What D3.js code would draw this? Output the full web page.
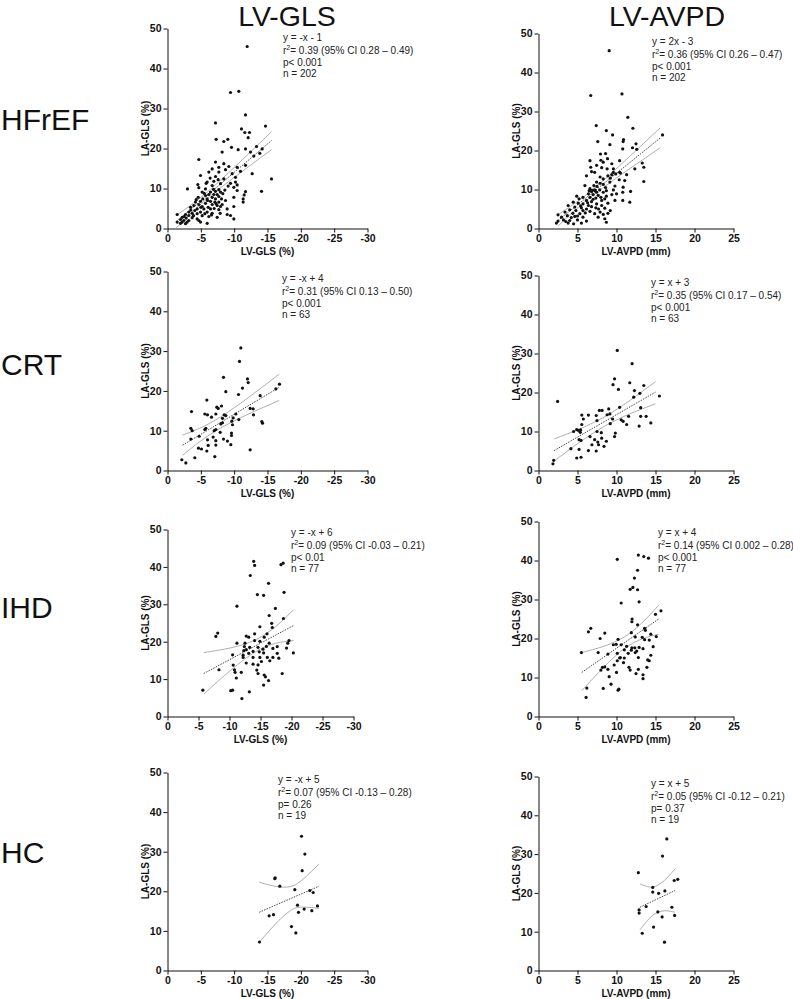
<!DOCTYPE html>
<html>
<head>
<meta charset="utf-8">
<script src="https://cdnjs.cloudflare.com/ajax/libs/d3/7.8.5/d3.min.js"></script>
<style>
  body { margin: 0; background: #fff; }
  svg { display: block; }
  text { font-family: "Liberation Sans", Arial, sans-serif; }
</style>
</head>
<body>
<script>
// ---- data ----
var rowNames = ["HFrEF", "CRT", "IHD", "HC"];
var colNames = ["LV-GLS", "LV-AVPD"];
var xTitles = ["LV-GLS (%)", "LV-AVPD (mm)"];
var yTitle = "LA-GLS (%)";
var glsTicks = [0, -5, -10, -15, -20, -25, -30];
var avpdTicks = [0, 5, 10, 15, 20, 25];
var yTicks = [0, 10, 20, 30, 40, 50];

var equations = ["y = -x - 1", "y = 2x - 3", "y = -x + 4", "y = x + 3",
                 "y = -x + 6", "y = x + 4", "y = -x + 5", "y = x + 5"];
var r2Text = ["= 0.39 (95% CI 0.28 \u2013 0.49)", "= 0.36 (95% CI 0.26 \u2013 0.47)",
              "= 0.31 (95% CI 0.13 \u2013 0.50)", "= 0.35 (95% CI 0.17 \u2013 0.54)",
              "= 0.09 (95% CI -0.03 \u2013 0.21)", "= 0.14 (95% CI 0.002 \u2013 0.28)",
              "= 0.07 (95% CI -0.13 \u2013 0.28)", "= 0.05 (95% CI -0.12 \u2013 0.21)"];
var pText = ["p< 0.001", "p< 0.001", "p< 0.001", "p< 0.001", "p< 0.01", "p< 0.001", "p= 0.26", "p= 0.37"];
var nText = [202, 202, 63, 63, 77, 77, 19, 19];

var hfrefGls = [[-11.95,45.5],[-9.45,34],[-10.7,34.3],[-11.7,28.4],[-7.2,26.4],[-14.7,25.6],[-11.1,24.9],[-11.6,24],[-12.3,24],[-12.1,22.7],[-7.3,22.3],[-8.45,21.75],[-9.05,22.3],[-9.6,20.3],[-11.7,19.9],[-10.6,19.7],[-13.35,20.5],[-14.2,19.9],[-12.45,19.1],[-8.2,19.1],[-4.7,17.25],[-13.85,18.8],[-12.95,18.1],[-7.2,16.6],[-8.45,16.2],[-9.2,15.5],[-7.7,15.3],[-6.7,14.9],[-8.7,14.7],[-10.45,15.3],[-11.7,15.8],[-10.95,14.3],[-6.2,14.1],[-7.7,14.1],[-9.7,13.7],[-12.7,13.7],[-4.95,13.25],[-7.2,13],[-8.45,12.4],[-10.2,12.8],[-15.6,12.4],[-5.95,11.6],[-6.95,11.8],[-7.95,11.2],[-9.45,11.3],[-10.45,10.9],[-4.55,11],[-6.7,10.75],[-9.95,10.3],[-4.7,10.2],[-5.7,9.9],[-7.7,9.7],[-3,9.9],[-10.45,9.5],[-14.1,9.3],[-11.7,9.2],[-5.2,9.1],[-6.45,9.1],[-7.2,9.3],[-7.95,9.1],[-6.2,8.5],[-6.95,8.5],[-5.7,8.25],[-7.45,8.5],[-11.5,8.4],[-4.6,7.8],[-6.7,7.8],[-7.7,8],[-5.3,7.4],[-5.95,7.4],[-7.2,7.4],[-8.1,7.4],[-9.95,7.8],[-11.35,7.4],[-4.95,6.8],[-6.45,6.8],[-7.1,6.6],[-7.7,6.6],[-8.7,7],[-4.2,6.6],[-5.7,6.3],[-11.35,6.6],[-4.7,6],[-6.7,6],[-7.45,5.75],[-3.95,5.75],[-5.2,5.5],[-6.1,5.3],[-7.95,5.5],[-9.95,5.5],[-3.45,5.3],[-4.45,4.9],[-5.45,4.9],[-6.45,4.9],[-7.7,4.7],[-8.95,4.9],[-4.1,4.5],[-4.95,4.1],[-5.95,4.1],[-3.2,4.1],[-3.7,3.8],[-4.45,3.7],[-5.6,3.7],[-6.7,3.8],[-2.7,3.5],[-8.95,3.5],[-9.45,3.25],[-1.45,3.5],[-3.2,3.25],[-5.2,3.2],[-6.2,3],[-7.45,2.8],[-9.95,2.4],[-2.2,2.8],[-2.8,2.6],[-3.7,2.7],[-4.45,2.4],[-1.95,2.25],[-2.45,2],[-3.2,2],[-4.7,2],[-1.45,1.6],[-2.2,1.6],[-2.95,1.6],[-4.95,1.6],[-5.95,1.3],[-2.7,1.2],[-1.95,1.3],
  [-5.5,8.8],[-6,7],[-6.9,9.8],[-7.3,6.2],[-8.3,8.7],[-5,5.3],[-6.6,3.4],[-7.9,3.8],[-4.3,7.2],[-3.5,4.6],[-8.6,9.6],[-9.1,10.6],[-5.8,11.3],[-6.4,12.6],[-7.6,12.2],[-10.2,11.6],[-3.9,3.2],[-2.5,3],[-7,5],[-8.2,6]];

var hfrefAvpd = [[9.06,45.6],[6.7,34.1],[10.7,34.5],[11.45,28.5],[7.4,26.4],[12.1,25.7],[8.7,25.1],[15.9,24],[9.5,24],[10.9,22.8],[7.6,22.3],[10.85,22.3],[12.5,21.7],[9.15,21.5],[7.95,19.1],[8.6,19.2],[10.8,20.4],[12.05,20.7],[12.6,20.3],[6.6,17.4],[8.85,17.9],[7.45,16.2],[8.3,17],[9.4,16.6],[10.4,17.4],[13.3,16.8],[6.7,15.7],[8.1,15.6],[8.8,15.3],[9.6,15.3],[13.5,15.7],[7.2,14.4],[9.6,14.4],[9.9,14],[10.4,14.4],[11.3,13.8],[12.35,15.3],[6.15,13.5],[7.9,13.2],[8.9,13.5],[8.3,12.7],[10.35,12.5],[7.45,11.9],[9.15,11.9],[11.05,12.3],[13.5,12.05],[5.95,11],[7.1,11],[8.3,11.3],[9.8,10.9],[10.85,10.6],[6.6,10.2],[7.2,9.9],[7.85,9.9],[8.7,9.7],[9.6,9.9],[6.8,9.5],[7.45,9.3],[8.3,9.3],[10,8.9],[10.8,9.3],[11.8,9.5],[6.4,8.9],[7,8.7],[7.65,8.5],[8.7,8.3],[9.4,8.7],[4.9,8.3],[5.7,8],[6.6,8],[7.35,7.8],[8.5,7.6],[5.2,7.6],[8.1,7.2],[6.15,7.2],[6.8,6.9],[9.8,7.2],[10.8,7.2],[11.7,6.75],[4.45,6.75],[5.1,6.5],[5.7,6.3],[7.45,6.3],[8.9,6.5],[3.8,5.9],[6.4,5.9],[6.8,5.6],[8.1,5.9],[4.65,5.5],[5.5,5.3],[6.15,5],[7.35,5.3],[8.5,5.2],[4,4.8],[4.8,4.6],[5.7,4.6],[6.6,4.4],[7.9,4.2],[9.2,4.6],[3.4,4.2],[4.4,3.9],[5.3,3.8],[7.2,3.8],[8.3,3.6],[8.9,3.9],[3.7,3.3],[2.95,2.9],[4.65,3.1],[5.7,2.9],[7.65,2.9],[2.5,3.5],[3.2,2.2],[4,2.05],[5,2.2],[2.5,1.9],[6.15,1.9],[8.5,2.5],[8.7,1.6],[2.3,1.4],[3.8,1.4],[4.5,1.2],[5.5,1.4],
  [6.9,9.8],[7.3,9.6],[6.5,9.7],[7,7.5],[8,8],[6.3,6.6],[5.4,5.8],[7.7,5],[6,4],[4.2,2.8],[8.6,10.5],[9.2,12.9],[7.9,11.6],[5,3.2],[3.5,1.8],[6.8,14.6],[8,17.5],[9.4,13.8],[10.5,14.2],[7.5,10.8]];

var crtGls = [[-11,30.8],[-10.8,27.4],[-8.4,23.4],[-12,23],[-12.1,22.1],[-11.25,20.7],[-16.8,21.7],[-16.25,20.5],[-8.75,19.8],[-10.65,19.1],[-13.9,18.8],[-5.9,17.7],[-7.4,15.9],[-7.6,15.6],[-8.1,16.2],[-3.6,14.8],[-5.6,14.2],[-6,14],[-6.6,13.4],[-7.25,14.2],[-8.5,14],[-8.75,13.8],[-10.25,14.2],[-12.85,15.5],[-12.4,15.6],[-12.9,14],[-8.25,13.1],[-8.25,12],[-9.85,13.2],[-8,11.7],[-9.65,12.4],[-9.75,11.5],[-10.7,12.8],[-14.15,12.3],[-14.25,11.9],[-3.5,10.6],[-3.7,10],[-5.6,10.3],[-5.75,10.6],[-7,10],[-7.25,10.3],[-7.9,9.6],[-9.6,9.4],[-9.6,8.8],[-4.75,8.6],[-6.85,8.4],[-3.5,7.9],[-6,7.7],[-7.25,7.5],[-8.4,7.9],[-9,7.4],[-7.25,6.4],[-6.1,6.3],[-9.5,6.5],[-4.65,5.6],[-5.1,5.4],[-5.9,4.9],[-12.4,5.2],[-4.1,3.2],[-7.1,3.5],[-2.15,2.7],[-2.75,1.9]];

var crtAvpd = [[10.1,30.8],[12,27.4],[9.75,23.5],[9.55,22],[11.7,22.5],[10.25,20.8],[12.3,20.5],[13.5,21.8],[13,19.8],[12.2,18.8],[15.5,19.1],[2.45,17.7],[13.1,16.1],[10.4,16.2],[9,15.8],[7.8,15.4],[8.15,15.4],[9.15,14.5],[5.55,14.2],[6.4,14.2],[7.4,14.1],[8.8,14.3],[11.55,13.9],[13.1,13.9],[13.8,13.9],[5.75,13.2],[9.5,13.2],[10.6,13],[10.85,12.6],[7.5,12.8],[9.2,12],[11.3,11.8],[14.4,12.2],[12.9,11.4],[5.55,11.8],[4.5,10],[4.9,10.5],[5.1,10.3],[5.4,10.4],[5.35,9.8],[7.5,10],[8.05,9.7],[9.85,9.6],[9.75,8.7],[6.6,8.7],[8.1,8.3],[5.2,7.9],[5.45,7.7],[7.2,7.9],[7.6,7.3],[8.7,7.5],[6.85,6.6],[7.7,6.6],[8.4,6.2],[4.15,5.6],[5.2,5.4],[6.4,5.1],[7.4,5],[4.9,3.2],[5.45,3.4],[1.95,2.6],[1.85,1.7]];

var ihdGls = [[-13.9,41.5],[-14.05,40.4],[-18.3,40.6],[-18.65,41],[-13.35,37.7],[-16.3,35.6],[-11.2,29.5],[-14.5,32.6],[-15.5,32.4],[-18.8,33.2],[-17.4,28.9],[-16.4,27],[-18.7,26.2],[-16.8,24.9],[-16.9,23.8],[-14.9,24],[-8.1,22.3],[-7.8,21.4],[-14.05,22.1],[-16.05,22.1],[-12.7,21.5],[-13.1,21.2],[-15.6,21.2],[-14.9,20.1],[-11.2,19.6],[-14.05,20.3],[-12.5,19.6],[-16.4,19.6],[-19.6,20.3],[-19.4,19.6],[-15.95,18.75],[-12.4,18.7],[-13.25,18.5],[-14.6,18.5],[-17.7,18.7],[-19.2,18.3],[-12.7,17.9],[-15.4,18],[-17,18.2],[-12.3,17.6],[-13.8,17.4],[-14.8,17.3],[-15.5,17],[-20.3,17],[-10.5,16.5],[-12.2,16.4],[-13.1,16.9],[-17.7,16.9],[-12.2,15.8],[-13.8,15.8],[-14.9,15.8],[-16.1,15.8],[-17,15.8],[-17.95,15.6],[-12.7,14.3],[-15.15,14.7],[-16.5,14.9],[-13.8,14],[-10.6,13.75],[-14.6,13.8],[-10.8,12.5],[-8.3,12.5],[-11.9,11.8],[-10.9,11.8],[-14.4,12.4],[-14.6,11.5],[-15.6,11.1],[-15.8,10.6],[-11.1,10.3],[-18.5,11.5],[-16.3,9.6],[-15.5,8.4],[-5.7,7.05],[-10.2,6.9],[-10.5,7.05],[-13.2,6.6],[-12,4.8]];

var ihdAvpd = [[10.1,40.3],[12.8,41.4],[13.5,41],[14.1,40.6],[12.7,37.5],[12.3,35.5],[11.75,32.6],[12.1,33.1],[12.7,32.5],[10.6,29.1],[12.9,29.4],[15.7,27.1],[15,26.2],[12,25],[11.97,24.3],[12.7,23.5],[13.6,22.6],[13.7,22.1],[6.7,22.6],[6.4,21.7],[8.5,21.4],[11.9,21.5],[15.1,20.5],[14.4,21.1],[12.4,20.4],[7.9,20],[10.2,19.8],[13.3,20.3],[13.6,19.7],[14.2,19.6],[9.6,18.4],[9.96,18.5],[10.6,18.4],[11.3,18],[11.97,17.6],[12.35,17.6],[12.9,17.7],[13.4,17.4],[14.7,17.9],[11,17.1],[11.9,17],[12.6,16.8],[7.65,16.4],[5.5,16.4],[10.1,16.2],[8.9,16],[11.5,16.2],[12.4,16.4],[10.5,15.1],[10.4,15],[11,15],[12.8,15.1],[10.1,14.3],[10.9,13.8],[14.4,15.7],[9.7,13.2],[14,14.5],[8.5,12.7],[8.9,12.1],[12.8,12.1],[14.2,14.3],[10,11.3],[11.6,12.6],[11.75,11.9],[12.5,11],[8.2,12.6],[8,11.9],[9.06,10.2],[13.4,10.7],[13.4,9.7],[13.9,12.6],[9.3,8.3],[8.3,7.2],[10.2,6.75],[10.3,7],[6.2,7.3],[6.1,4.9]];

var hcGls = [[-20.1,33.9],[-20.6,29.4],[-20.2,25.2],[-16.15,23.4],[-16.1,23.2],[-16.85,21.3],[-19.1,20.4],[-21.35,20.2],[-21.85,19.7],[-19.5,16.5],[-22.5,16.3],[-20.5,15.5],[-21.65,15.1],[-19.65,14.7],[-15.9,14.1],[-15.25,13.8],[-18.6,11.1],[-19.25,9.5],[-13.8,7.2]];

var hcAvpd = [[16.45,33.9],[15.9,29.5],[12.8,25.2],[17.4,23.2],[17.85,23.5],[14.65,21.4],[14.65,20.2],[15.4,19.9],[16.2,20.5],[13.8,16.5],[17.1,16.3],[12.9,15.6],[12.9,14.8],[15.3,15.1],[15.85,13.8],[17.45,14.2],[14.75,11.2],[13.3,9.6],[16.15,7.3]];

// regression line and 95% band as read: [x, lower, fit, upper]
var hfrefGlsFit = [[-1.3,0.1,1.7,3.3],[-6.5,8.2,9.05,9.9],[-15.6,19.7,22,24.2]];
var hfrefAvpdFit = [[2.5,0.6,2.05,3.6],[7.3,9,9.8,10.6],[15.6,20.7,23.2,25.8]];
var crtGlsFit = [[-2.25,3.8,6.35,8.9],[-8,10.7,12.1,13.5],[-16.75,17.6,20.9,24.2]];
var crtAvpdFit = [[2,2.4,5.1,8.1],[8.5,11.4,12.6,13.8],[15,17.1,20.1,22.8]];
var ihdGlsFit = [[-5.85,6,11.5,17.1],[-14.2,17.3,18.9,20.5],[-20.3,20.3,24.3,28.5]];
var ihdAvpdFit = [[5.55,6.6,11.3,16.4],[11,17.4,18.9,20.4],[15.4,21.1,25,28.5]];
var hcGlsFit = [[-13.75,7.1,14.7,22.3],[-16,11.4,16.35,21.3],[-18.5,15.2,18.2,21.2],[-20.5,16,19.65,23.3],[-22.75,15.7,21.3,26.9]];
var hcAvpdFit = [[13,10.5,16.3,22.3],[14.3,13.6,17.55,21.5],[15.3,15,18.5,22],[16.4,15.4,19.55,23.7],[17.5,15,20.6,26.2]];

var panelPoints = [hfrefGls, hfrefAvpd, crtGls, crtAvpd, ihdGls, ihdAvpd, hcGls, hcAvpd];
var panelFits = [hfrefGlsFit, hfrefAvpdFit, crtGlsFit, crtAvpdFit, ihdGlsFit, ihdAvpdFit, hcGlsFit, hcAvpdFit];

// ---- layout (pixels) ----
var frames = [
  { x: 167, y: 28,  w: 200, h: 200, tx: 283, ty: 41 },
  { x: 538, y: 33,  w: 195, h: 195, tx: 652, ty: 45 },
  { x: 167, y: 271, w: 200, h: 199, tx: 282, ty: 282 },
  { x: 538, y: 275, w: 195, h: 195, tx: 651, ty: 286 },
  { x: 167, y: 529, w: 186, h: 187, tx: 291, ty: 536 },
  { x: 538, y: 521, w: 195, h: 195, tx: 658, ty: 536 },
  { x: 167, y: 772, w: 200, h: 198, tx: 278, ty: 783 },
  { x: 538, y: 776, w: 195, h: 194, tx: 651, ty: 787 }
];
var rowBaselines = [130, 375, 618, 863];

var svg = d3.select("body").append("svg")
  .attr("width", 793)
  .attr("height", 999);

svg.append("rect").attr("width", 793).attr("height", 999).attr("fill", "#fff");

// column headers
svg.selectAll("text.col").data(colNames).enter().append("text")
  .attr("class", "col")
  .attr("x", function (d, i) { return i === 0 ? 287 : 667; })
  .attr("y", 26)
  .attr("text-anchor", "middle")
  .attr("font-size", 28.5)
  .attr("fill", "#111")
  .text(function (d) { return d; });

// row labels
svg.selectAll("text.row").data(rowNames).enter().append("text")
  .attr("class", "row")
  .attr("x", 1)
  .attr("y", function (d, i) { return rowBaselines[i]; })
  .attr("font-size", 30)
  .attr("fill", "#111")
  .text(function (d) { return d; });

frames.forEach(function (f, i) {
  var isGls = i % 2 === 0;
  var x = d3.scaleLinear()
    .domain(isGls ? [0, -30] : [0, 25])
    .range([0, f.w]);
  var y = d3.scaleLinear().domain([0, 50]).range([f.h, 0]);

  var g = svg.append("g").attr("transform", "translate(" + (f.x + 0.5) + "," + (f.y + 0.5) + ")");

  // 95% confidence band
  var fit = panelFits[i];
  ["lo", "hi"].forEach(function (side) {
    var col = side === "lo" ? 1 : 3;
    g.append("path")
      .datum(fit)
      .attr("fill", "none")
      .attr("stroke", "#9a9a9a")
      .attr("stroke-width", 0.8)
      .attr("d", d3.line()
        .curve(d3.curveNatural)
        .x(function (d) { return x(d[0]); })
        .y(function (d) { return y(d[col]); }));
  });

  // regression line
  g.append("path")
    .datum(fit)
    .attr("fill", "none")
    .attr("stroke", "#333")
    .attr("stroke-width", 0.9)
    .attr("stroke-dasharray", "1.5,1.2")
    .attr("d", d3.line()
      .x(function (d) { return x(d[0]); })
      .y(function (d) { return y(d[2]); }));

  // points
  g.selectAll("circle").data(panelPoints[i]).enter().append("circle")
    .attr("cx", function (d) { return x(d[0]); })
    .attr("cy", function (d) { return y(d[1]); })
    .attr("r", 1.6)
    .attr("fill", "#111");

  // axes
  var xAxis = g.append("g")
    .attr("transform", "translate(0," + f.h + ")")
    .call(d3.axisBottom(x)
      .tickValues(isGls ? glsTicks : avpdTicks)
      .tickFormat(function (d) { return String(d); })
      .tickSize(4).tickSizeOuter(0).tickPadding(2));
  var yAxis = g.append("g")
    .call(d3.axisLeft(y)
      .tickValues(yTicks)
      .tickFormat(function (d) { return String(d); })
      .tickSize(4).tickSizeOuter(0).tickPadding(2));
  [xAxis, yAxis].forEach(function (a) {
    a.select(".domain").attr("stroke", "#111").attr("stroke-width", 1);
    a.selectAll(".tick line").attr("stroke", "#111").attr("stroke-width", 1);
    a.selectAll(".tick text")
      .attr("font-family", "'Liberation Sans', Arial, sans-serif")
      .attr("font-size", 10.5)
      .attr("font-weight", "bold")
      .attr("fill", "#111");
  });

  // axis titles
  g.append("text")
    .attr("x", f.w / 2)
    .attr("y", f.h + 26)
    .attr("text-anchor", "middle")
    .attr("font-size", 10)
    .attr("font-weight", "bold")
    .attr("fill", "#111")
    .text(xTitles[i % 2]);
  g.append("text")
    .attr("transform", "translate(-19," + (f.h / 2) + ") rotate(-90)")
    .attr("text-anchor", "middle")
    .attr("font-size", 10)
    .attr("font-weight", "bold")
    .attr("fill", "#111")
    .text(yTitle);

  // statistics block
  var st = svg.append("g").attr("transform", "translate(" + f.tx + "," + f.ty + ")")
    .attr("font-size", 10)
    .attr("fill", "#222");
  st.append("text").attr("y", 0).text(equations[i]);
  var r2 = st.append("text").attr("y", 13);
  r2.append("tspan").text("r");
  r2.append("tspan").attr("dy", -4).attr("font-size", 7).text("2");
  r2.append("tspan").attr("dy", 4).text(r2Text[i]);
  st.append("text").attr("y", 24.5).text(pText[i]);
  st.append("text").attr("y", 36).text("n = " + nText[i]);
});
</script>
</body>
</html>
